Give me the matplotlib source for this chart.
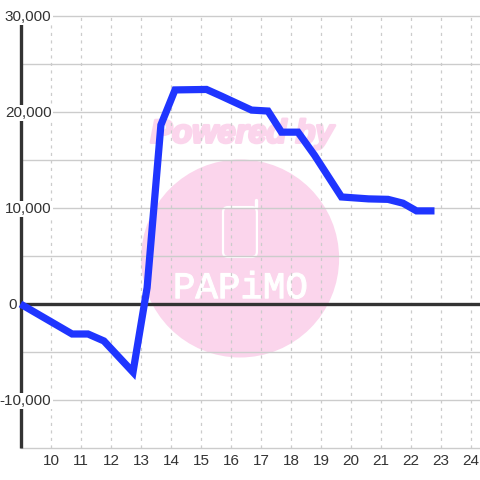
import numpy as np
import matplotlib
matplotlib.use('Agg')
import matplotlib.pyplot as plt
from matplotlib.patches import Ellipse, FancyBboxPatch
import matplotlib.patheffects as pe

# Data
hours = [9.0, 10.72, 11.25, 11.78, 12.75, 13.22, 13.68, 14.15, 15.2, 15.7, 16.7, 17.25, 17.7, 18.25, 18.8, 19.7, 20.6, 21.25, 21.75, 22.2, 22.8]
values = [0, -3125, -3125, -3850, -7100, 1700, 18650, 22300, 22350, 21650, 20200, 20100, 17900, 17900, 15500, 11150, 10950, 10900, 10500, 9700, 9700]
x_ticks = list(range(10, 25))
y_major = [30000, 20000, 10000, 0, -10000]
y_minor = [25000, 15000, 5000, -5000, -15000]

plt.rcParams['font.family'] = ['Liberation Sans', 'DejaVu Sans']

size_px = 480
fig = plt.figure(figsize=(4.8, 4.8), dpi=100)
# axes covers plot box: x 20.5..480, y 16..448 (pixels from top)
ax = fig.add_axes([20.5 / size_px, (size_px - 448) / size_px, (480 - 20.5) / size_px, (448 - 16) / size_px])
ax.set_xlim(9, 9 + (480 - 20.5) / 30)
ax.set_ylim(-15000, 30000)
for sp in ax.spines.values():
  sp.set_visible(False)

c_grid = '#cccccc'
c_axis = '#333333'
c_pink = '#fbd5ec'
c_line = '#1f35ff'

# Watermark
ax.add_patch(Ellipse((16.32, 4740), 198 / 30, 198 / 96 * 10000, fc=c_pink, ec='none', zorder=0))
ax.text(16.38, 17700, 'Powered by', color=c_pink, fontsize=23.5, fontweight='bold', style='italic', ha='center', va='center', zorder=0,
        path_effects=[pe.withStroke(linewidth=2, foreground=c_pink)])
ax.add_patch(FancyBboxPatch((15.75, 4900), 1.13, 5200, boxstyle='round,pad=0,rounding_size=0.17', mutation_aspect=3125, fc='none', ec='white', lw=1.6, zorder=0.5))
ax.plot([16.85, 16.85], [10100, 10850], color='white', lw=2.4, solid_capstyle='round', zorder=0.5)
ax.text(16.33, 1650, 'PAPiMO', color='white', fontsize=27, family=['Liberation Mono', 'DejaVu Sans'], ha='center', va='center', zorder=0.5,
        path_effects=[pe.withStroke(linewidth=0.8, foreground='white')])

# Grid
for x in x_ticks:
  ax.plot([x, x], [-15000, 30000], color=c_grid, lw=0.9, ls=(0, (2.5, 3.5)), zorder=1, clip_on=False)
for y in y_minor + y_major:
  if y != 0:
    ax.plot([9, 24.32], [y, y], color=c_grid, lw=1, zorder=1, clip_on=False)

# Axis lines
ax.plot([9, 24.32], [0, 0], color=c_axis, lw=2.4, zorder=2, solid_capstyle='butt')
ax.plot([9, 9], [-15000, 29200], color=c_axis, lw=2.4, clip_on=False, zorder=2, solid_capstyle='butt')

# Tick labels sit over the axis with a white backing
for y in y_major:
  label = f'{y:,}'
  right = 51.5 if y != 0 else 16.5
  ax.annotate(label, xy=(right / size_px, y), xycoords=('figure fraction', 'data'), xytext=(0, -1), textcoords='offset pixels', ha='right', va='center', fontsize=11, color=c_axis, zorder=4,
              bbox=dict(fc='white', ec='none', pad=1.0), annotation_clip=False)
for x in x_ticks:
  ax.annotate(str(x), xy=(x, 0), xycoords=('data', 'figure fraction'), xytext=(0.5, 480 - 461), textcoords='offset pixels', ha='center', va='center', fontsize=11, color=c_axis, annotation_clip=False)

ax.plot(hours, values, color=c_line, lw=5.2, solid_joinstyle='miter', solid_capstyle='butt', zorder=5, clip_on=False)

ax.set_xticks([])
ax.set_yticks([])
ax.patch.set_alpha(0)

fig.savefig('out.png', dpi=100)
